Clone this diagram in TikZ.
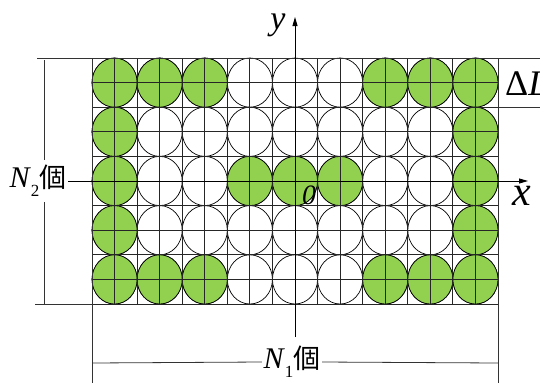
\documentclass[tikz,border=0pt]{standalone}
\usepackage{fontspec}
\setmainfont{Liberation Serif}
\newfontfamily\cjk{Noto Sans CJK TC}
\usetikzlibrary{shapes.geometric,arrows.meta}
\definecolor{cellgreen}{RGB}{146,208,80}
\tikzset{
  cell/.style={ellipse, draw=black, line width=0.7pt, fill=white,
    minimum width=45.11pt, minimum height=49.2pt, inner sep=0pt},
  gridline/.style={draw=black!85, line width=0.8pt},
  dimline/.style={draw=black!80, line width=0.8pt},
  axis/.style={draw=black, line width=0.8pt, -{Triangle[length=9pt,width=5pt]}},
  lbl/.style={inner sep=1.5pt},
}
\begin{document}
\begin{tikzpicture}[x=1pt,y=-1pt]
\useasboundingbox (0,0) rectangle (540,383);
% cells
\foreach \r in {1,...,5}
  \foreach \c in {1,...,9}
    \node[cell] (c\r-\c) at ({92+(\c-0.5)*45.111},{58+(\r-0.5)*49.2}) {};
\foreach \p in {1-1,1-2,1-3,1-7,1-8,1-9,2-1,2-9,3-1,3-4,3-5,3-6,3-9,4-1,4-9,5-1,5-2,5-3,5-7,5-8,5-9}
  \node[cell,fill=cellgreen] (g\p) at (c\p) {};
% grid
\foreach \k in {0,...,18}
  \draw[gridline] ({92+\k*22.5556},58) -- ({92+\k*22.5556},304);
\foreach \k in {0,...,10}
  \draw[gridline] (92,{58+\k*24.6}) -- (498,{58+\k*24.6});
% coordinates
\coordinate (tl) at (37,58);
\coordinate (tr) at (540,58);
\coordinate (r2l) at (498,107);
\coordinate (r2r) at (540,107);
\coordinate (bl) at (35,304);
\coordinate (br) at (92,304);
\coordinate (vlt) at (92,58);
\coordinate (vlb) at (92,383);
\coordinate (vrt) at (498,58);
\coordinate (vrb) at (498,383);
\coordinate (d2a) at (44,60);
\coordinate (d2b) at (44,160);
\coordinate (d2c) at (44,202);
\coordinate (d2d) at (44,304);
\coordinate (d1l) at (92,363);
\coordinate (d1r) at (498,363);
\coordinate (ybot) at (295,337);
\coordinate (ytop) at (295,17);
\coordinate (xtip) at (528,181);
% extension lines
\draw[dimline] (tl) -- (tr);
\draw[dimline] (r2l) -- (r2r);
\draw[dimline] (bl) -- (br);
\draw[dimline] (vlt) -- (vlb);
\draw[dimline] (vrt) -- (vrb);
\draw[dimline] (d2a) -- (d2b);
\draw[dimline] (d2c) -- (d2d);
% labels
\node[lbl] (n2) at (38,181) {\fontsize{30}{30}\selectfont\itshape N\/\raisebox{-9pt}{\fontsize{17}{17}\selectfont\upshape 2}\upshape{\cjk\fontsize{27}{27}\selectfont 個}};
\node[lbl] (n1) at (292,362) {\fontsize{30}{30}\selectfont\itshape N\/\raisebox{-9pt}{\fontsize{17}{17}\selectfont\upshape 1}\upshape{\cjk\fontsize{27}{27}\selectfont 個}};
\node[anchor=west,inner sep=0pt] (dl) at (505,84) {\fontsize{36}{36}\selectfont Δ\itshape L};
\node (ylab) at (278,25) {\fontsize{34}{34}\selectfont\itshape y};
\node (xlab) at (522,196) {\fontsize{42}{42}\selectfont\itshape x};
\node (olab) at (309,195) {\fontsize{28}{28}\selectfont\itshape 0};
% axes and leaders
\draw[axis] (n2.east) -- (xtip);
\draw[axis] (ybot) -- (ytop);
\draw[dimline] (d1l) -- (n1.west);
\draw[dimline] (n1.east) -- (d1r);
\end{tikzpicture}
\end{document}
